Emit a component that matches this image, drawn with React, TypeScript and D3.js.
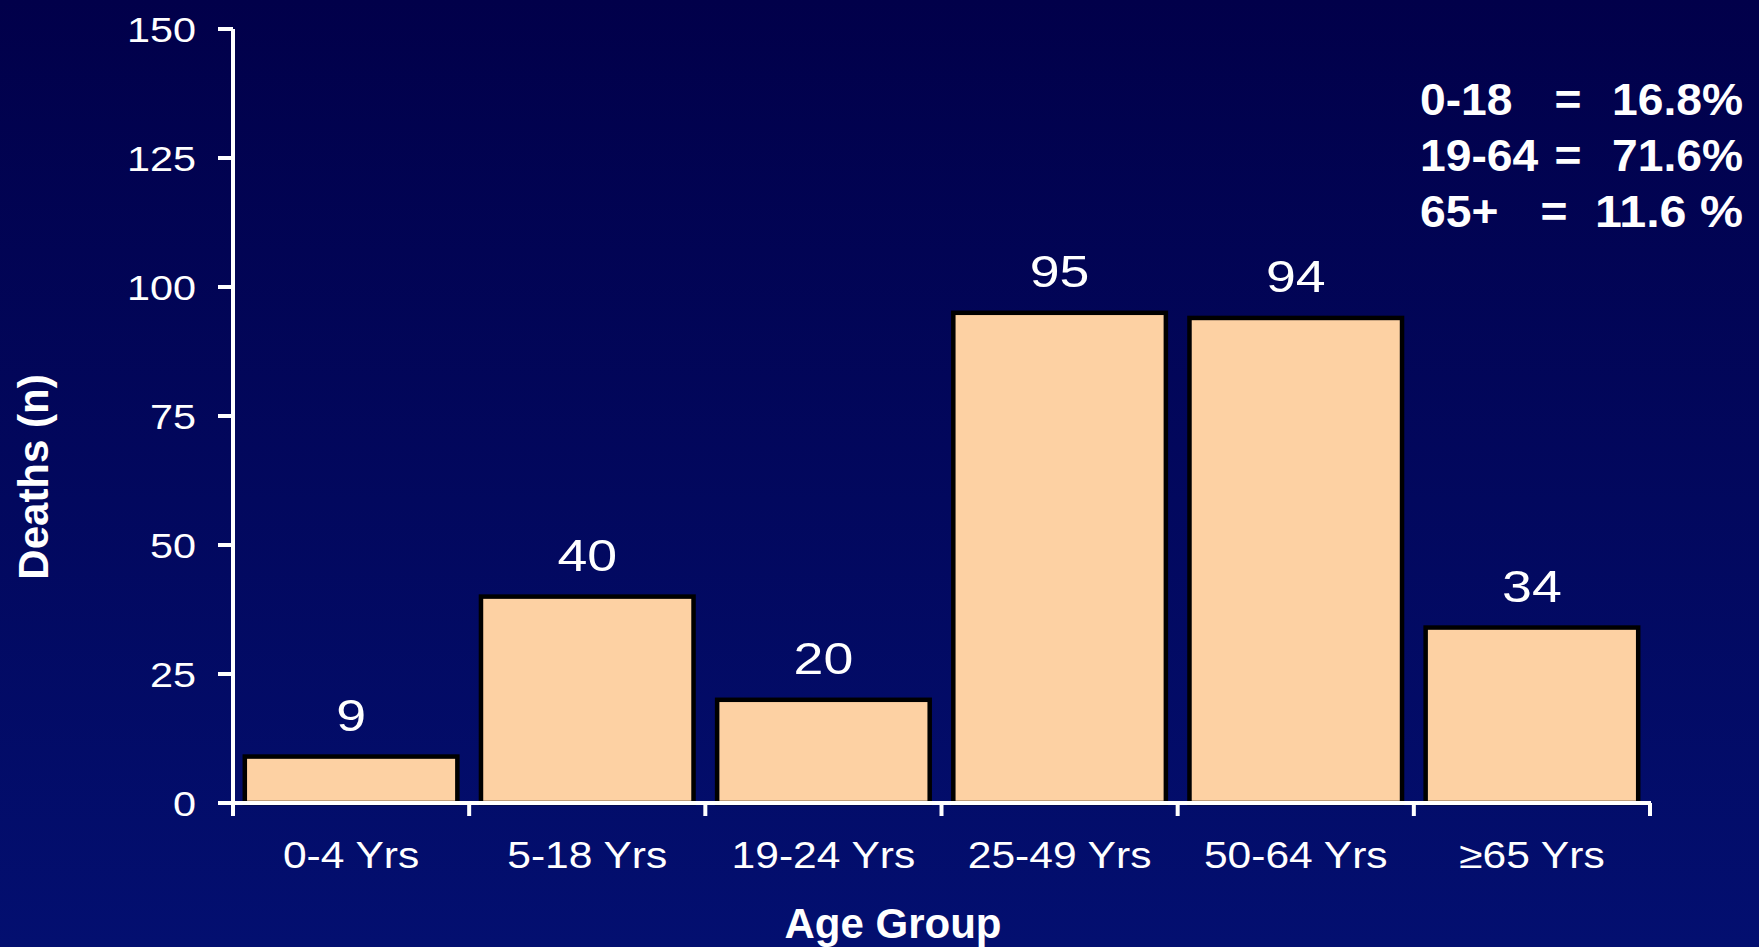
import React from "react";
import * as d3 from "d3";

const categories = ["0-4 Yrs", "5-18 Yrs", "19-24 Yrs", "25-49 Yrs", "50-64 Yrs", "≥65 Yrs"];
const deaths = [9, 40, 20, 95, 94, 34];
const yTicks = [0, 25, 50, 75, 100, 125, 150];
const summaryLabels = ["0-18", "19-64", "65+"];
const summaryValues = ["16.8%", "71.6%", "11.6 %"];
const yTitle = "Deaths (n)";
const xTitle = "Age Group";

const W = 1759;
const H = 947;

function SText({ x, y, sx = 1, anchor = "middle", size, weight = "normal", children, rotate = 0 }: any) {
  return (
    <g transform={`translate(${x},${y}) rotate(${rotate}) scale(${sx},1)`}>
      <text
        x={0}
        y={0}
        textAnchor={anchor}
        fontSize={size}
        fontWeight={weight}
        fontFamily="'Liberation Sans', Arial, sans-serif"
        fill="#ffffff"
      >
        {children}
      </text>
    </g>
  );
}

export default function App() {
  const x = d3.scaleBand<string>().domain(categories).range([233, 1650]).paddingInner(0.1).paddingOuter(0.05);
  const y = d3.scaleLinear().domain([0, 150]).range([803, 29]);
  const step = x.step();
  const boundaries = d3.range(categories.length + 1).map((i) => 233 + i * step);
  const y0 = y(0);

  return (
    <svg
      width={W}
      height={H}
      style={{ position: "absolute", left: 0, top: 0, display: "block" }}
    >
      <defs>
        <linearGradient id="bg" x1="0" y1="0" x2="0" y2="1">
          <stop offset="0" stopColor="#01004a" />
          <stop offset="1" stopColor="#030f70" />
        </linearGradient>
      </defs>
      <rect x={0} y={0} width={W} height={H} fill="url(#bg)" />

      {/* bars */}
      {categories.map((c, i) => (
        <rect
          key={c}
          x={x(c)!}
          y={y(deaths[i])}
          width={x.bandwidth()}
          height={y0 - y(deaths[i])}
          fill="#fdd1a3"
          stroke="#000000"
          strokeWidth={4.5}
        />
      ))}

      {/* axes */}
      <line x1={233} x2={233} y1={y(150)} y2={y0 + 13} stroke="#fff" strokeWidth={4} />
      <line x1={218} x2={1651} y1={y0} y2={y0} stroke="#fff" strokeWidth={4} />
      {yTicks.map((t) => (
        <line key={t} x1={218} x2={233} y1={y(t)} y2={y(t)} stroke="#fff" strokeWidth={4} />
      ))}
      {boundaries.map((b, i) => (
        <line key={i} x1={b} x2={b} y1={y0} y2={y0 + 13} stroke="#fff" strokeWidth={4} />
      ))}

      {/* y tick labels */}
      {yTicks.map((t) => (
        <SText key={t} x={196} y={y(t) + 13} anchor="end" size={36} sx={1.15}>
          {String(t)}
        </SText>
      ))}

      {/* x tick labels */}
      {categories.map((c) => (
        <SText key={c} x={x(c)! + x.bandwidth() / 2} y={868} size={37} sx={1.15}>
          {c}
        </SText>
      ))}

      {/* value labels */}
      {categories.map((c, i) => (
        <SText key={c} x={x(c)! + x.bandwidth() / 2} y={y(deaths[i]) - 26} size={44} sx={1.22}>
          {String(deaths[i])}
        </SText>
      ))}

      {/* axis titles */}
      <SText x={48} y={477} size={42} weight="bold" rotate={-90}>
        {yTitle}
      </SText>
      <SText x={893} y={938} size={42} weight="bold">
        {xTitle}
      </SText>

      {/* summary */}
      {summaryLabels.map((l, i) => {
        const by = 115 + i * 56;
        const eqX = i === 2 ? 1554 : 1568;
        return (
          <g key={l}>
            <SText x={1420} y={by} anchor="start" size={44} weight="bold" sx={1.05}>
              {l}
            </SText>
            <SText x={eqX} y={by} anchor="middle" size={44} weight="bold" sx={1.05}>
              =
            </SText>
            <SText x={1743} y={by} anchor="end" size={44} weight="bold" sx={i === 2 ? 1.1 : 1.05}>
              {summaryValues[i]}
            </SText>
          </g>
        );
      })}
    </svg>
  );
}
